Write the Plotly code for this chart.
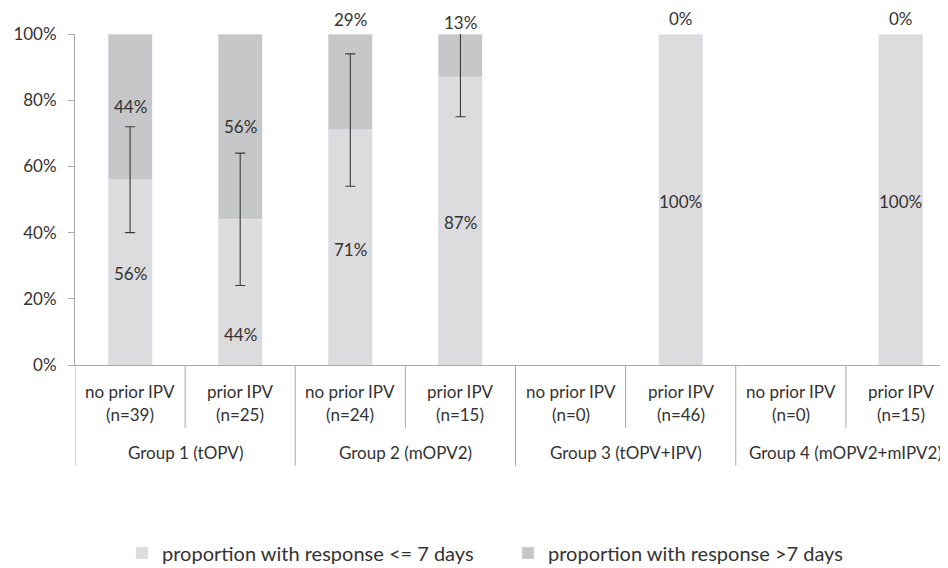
import plotly.graph_objects as go

# ---- data ----
groups = ["Group 1 (tOPV)", "Group 2 (mOPV2)", "Group 3 (tOPV+IPV)", "Group 4 (mOPV2+mIPV2)"]
subcats = ["no prior IPV", "prior IPV", "no prior IPV", "prior IPV",
           "no prior IPV", "prior IPV", "no prior IPV", "prior IPV"]
n_labels = ["(n=39)", "(n=25)", "(n=24)", "(n=15)", "(n=0)", "(n=46)", "(n=0)", "(n=15)"]
le7 = [0.56, 0.44, 0.71, 0.87, None, 1.00, None, 1.00]
gt7 = [0.44, 0.56, 0.29, 0.13, None, 0.00, None, 0.00]
ci_low = [0.40, 0.24, 0.54, 0.75, None, None, None, None]
ci_high = [0.72, 0.64, 0.94, 1.01, None, None, None, None]
series_names = ["proportion with response <= 7 days", "proportion with response >7 days"]
# label heights (fraction of axis) for the data labels
le7_label_y = [0.275, 0.092, 0.35, 0.43, None, 0.494, None, 0.494]
gt7_label_y = [0.78, 0.72, 1.045, 1.036, None, 1.046, None, 1.046]

# ---- style ----
FONT = "Lato"
TXT = "#333333"
C_LIGHT = "#dcdcde"
C_DARK = "#c6c7c9"
LINE = "#a9a9a9"
W, H = 948, 568
OFF = 8          # page body margin
ML, MT, PH = 67, 26.3, 331
MB = H - MT - PH

x = list(range(len(subcats)))

fig = go.Figure()
fig.add_trace(go.Bar(x=x, y=le7, name=series_names[0], marker_color=C_LIGHT,
                     width=0.4, hoverinfo="skip"))
fig.add_trace(go.Bar(x=x, y=gt7, name=series_names[1], marker_color=C_DARK,
                     width=0.4, hoverinfo="skip"))

err_plus = [None if h is None else h - v for h, v in zip(ci_high, le7)]
err_minus = [None if l is None else v - l for l, v in zip(ci_low, le7)]
fig.add_trace(go.Scatter(x=x, y=[v if l is not None else None for v, l in zip(le7, ci_low)],
                         mode="markers", marker=dict(size=1, opacity=0),
                         showlegend=False, hoverinfo="skip", cliponaxis=False,
                         error_y=dict(type="data", symmetric=False, array=err_plus,
                                      arrayminus=err_minus, color="#3a3a3a",
                                      thickness=1.1, width=5)))

def py(px):
    # window pixel row -> paper y
    return (MT + PH - (px - OFF)) / PH

LBL = 17
def label(xv, yv, text):
    # y axis spans the full paper height with range [0, 1], so data y == paper y
    return dict(x=xv, y=yv, xref="x", yref="paper", text=text, showarrow=False,
                xanchor="center", yanchor="middle",
                font=dict(family=FONT, size=LBL, color=TXT))

ann = []
for i in x:
    if le7[i] is not None:
        ann.append(label(i, le7_label_y[i], f"{round(le7[i]*100)}%"))
    if gt7[i] is not None:
        ann.append(label(i, gt7_label_y[i], f"{round(gt7[i]*100)}%"))
    ann.append(label(i, py(391.5), subcats[i]))
    ann.append(label(i, py(414.5), n_labels[i]))
for g, name in enumerate(groups):
    ann.append(label(2 * g + 0.5, py(453), name))

shapes = []
for i in range(len(subcats) + 1):
    bottom = 466 if i % 2 == 0 else 428
    shapes.append(dict(type="line", xref="x", yref="paper", x0=i - 0.5, x1=i - 0.5,
                       y0=0, y1=py(bottom), line=dict(color=LINE, width=1)))

fig.update_layout(
    width=W, height=H, autosize=False,
    margin=dict(l=ML, r=0, t=MT, b=MB),
    plot_bgcolor="white", paper_bgcolor="white",
    barmode="stack", bargap=0.6,
    font=dict(family=FONT, size=LBL, color=TXT),
    xaxis=dict(range=[-0.5, 7.5], showticklabels=False, ticks="", showgrid=False,
               zeroline=False, showline=True, linecolor=LINE, linewidth=1),
    yaxis=dict(range=[0, 1], tickvals=[0, 0.2, 0.4, 0.6, 0.8, 1.0], tickformat=".0%",
               showgrid=False, zeroline=False, showline=True, linecolor=LINE, linewidth=1,
               ticks="outside", ticklen=6, tickcolor=LINE, ticklabelstandoff=8,
               tickfont=dict(family=FONT, size=LBL, color=TXT)),
    legend=dict(orientation="h", x=(122 - OFF) / W, xanchor="left",
                y=1 - (553 - OFF) / H, yanchor="middle", xref="container", yref="container",
                font=dict(family=FONT, size=20, color=TXT), entrywidth=341,
                itemclick=False, traceorder="normal"),
    annotations=ann, shapes=shapes,
)

fig.write_html("out.html")
